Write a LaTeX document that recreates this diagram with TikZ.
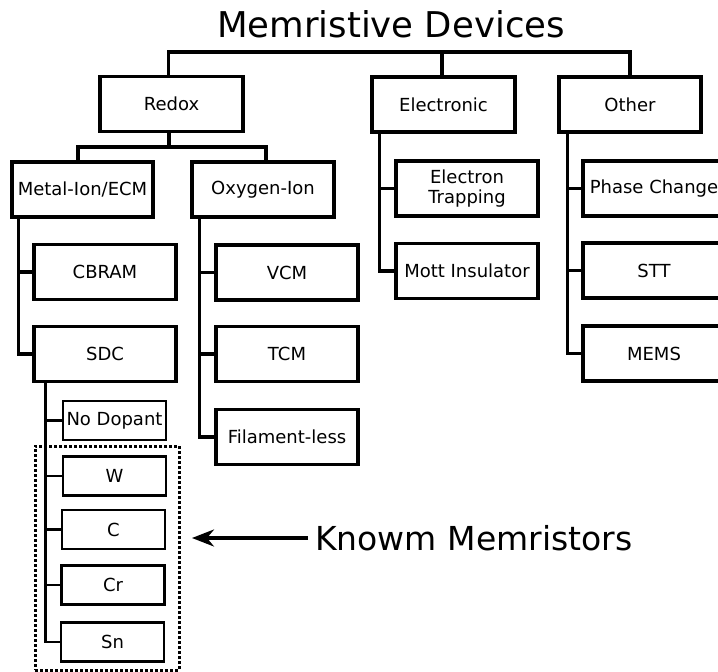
\documentclass[tikz,border=0pt]{standalone}
\usepackage{fontspec}
\setmainfont{DejaVu Sans}
\usetikzlibrary{arrows.meta,fit}
\begin{document}
\begin{tikzpicture}[x=1pt,y=-1pt,
  box/.style={draw,line width=3.2pt,inner sep=0pt,minimum width=142pt,minimum height=55pt,
    font=\fontsize{18}{21}\selectfont,align=center},
  sbox/.style={draw,line width=2.5pt,inner sep=0pt,minimum width=103pt,minimum height=39pt,
    font=\fontsize{18}{21}\selectfont},
  conn/.style={line width=3.2pt},
  sconn/.style={line width=2.5pt},
  big/.style={font=\fontsize{35.5}{40}\selectfont,inner sep=0pt}]
\useasboundingbox (0,0) rectangle (718,672);
\node[big,anchor=base] (title) at (391,37) {Memristive Devices};
% level 1
\node[box,minimum width=143pt] (redox) at (171.5,104) {Redox};
\node[box,minimum width=143pt] (elec) at (443.5,104.5) {Electronic};
\node[box] (other) at (630,104.5) {Other};
% level 2
\node[box,minimum width=141pt] (metal) at (82.5,189.5) {Metal-Ion/ECM};
\node[box] (oxy) at (263,189.5) {Oxygen-Ion};
\node[box] (etrap) at (467,188.5) {Electron\\[-1pt]Trapping};
\node[box] (mott) at (467,271) {Mott Insulator};
\node[box] (phase) at (654,188.5) {Phase Change};
\node[box] (stt) at (654,270.5) {STT};
\node[box] (mems) at (654,353.5) {MEMS};
% level 3
\node[box] (cbram) at (105,272) {CBRAM};
\node[box] (sdc) at (105,354) {SDC};
\node[box] (vcm) at (287,272.5) {VCM};
\node[box] (tcm) at (287,354) {TCM};
\node[box] (fil) at (287,437) {Filament-less};
% SDC children
\node[sbox] (nodop) at (114.5,420.5) {No Dopant};
\node[sbox] (w) at (114.5,476) {W};
\node[sbox] (c) at (113.5,529.5) {C};
\node[sbox] (cr) at (113,585) {Cr};
\node[sbox] (sn) at (112.5,642) {Sn};
% dotted group
\node[draw,line width=3pt,dash pattern=on 2.6pt off 2.4pt,inner sep=0pt,fit={(35,446) (179,670)}] (known) {};
% label + arrow
\node[big,font=\fontsize{33}{40}\selectfont,anchor=west] (klabel) at (315,538) {Knowm Memristors};
\coordinate (tip) at (192,538);
\draw[line width=3.2pt,-{Stealth[length=22pt,width=17pt,inset=7pt]},shorten <=7pt] (klabel.west) -- (tip |- klabel.west);
% connectors: root
\coordinate (bus) at (0,52);
\draw[conn] ([xshift=-3pt]redox.north) |- (bus -| other.north) -- (other.north);
\draw[conn] ([xshift=-1.5pt]elec.north) -- ([xshift=-1.5pt]elec.north |- bus);
% redox children
\coordinate (rbus) at (0,147);
\draw[conn] ([xshift=-4.5pt]metal.north) |- ([xshift=3pt]oxy.north |- rbus) -- ([xshift=3pt]oxy.north);
\draw[conn] ([xshift=-2.5pt]redox.south) -- ([xshift=-2.5pt]redox.south |- rbus);
% trunks
\draw[conn] ([xshift=8pt]metal.south west) |- (cbram.west);
\draw[conn] ([xshift=8pt]metal.south west) |- (sdc.west);
\draw[conn] ([xshift=9pt]oxy.south west) |- (vcm.west);
\draw[conn] ([xshift=9pt]oxy.south west) |- (tcm.west);
\draw[conn] ([xshift=9pt]oxy.south west) |- (fil.west);
\draw[conn] ([xshift=9pt]elec.south west) |- (etrap.west);
\draw[conn] ([xshift=9pt]elec.south west) |- (mott.west);
\draw[conn] ([xshift=10pt]other.south west) |- (phase.west);
\draw[conn] ([xshift=10pt]other.south west) |- (stt.west);
\draw[conn] ([xshift=10pt]other.south west) |- (mems.west);
% SDC trunk
\draw[sconn] ([xshift=13pt]sdc.south west) |- (nodop.west);
\draw[sconn] ([xshift=13pt]sdc.south west) |- (w.west);
\draw[sconn] ([xshift=13pt]sdc.south west) |- (c.west);
\draw[sconn] ([xshift=13pt]sdc.south west) |- (cr.west);
\draw[sconn] ([xshift=13pt]sdc.south west) |- (sn.west);
\end{tikzpicture}
\end{document}
